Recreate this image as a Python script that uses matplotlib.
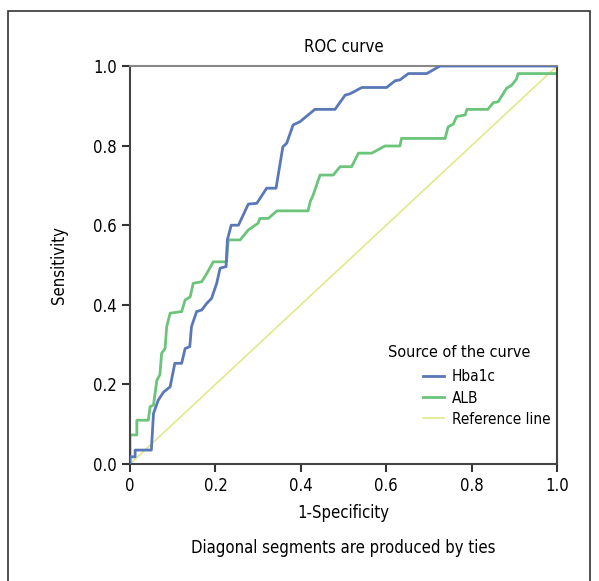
import matplotlib
matplotlib.use("Agg")
import matplotlib.pyplot as plt
from matplotlib.patches import Rectangle

plt.rcParams['font.family'] = ['DejaVu Sans']
plt.rcParams['font.stretch'] = 'condensed'

# ROC points (1-specificity, sensitivity)
hba1c_fpr = [0.0, 0.0, 0.012, 0.012, 0.05, 0.055, 0.066, 0.078, 0.094, 0.105, 0.121, 0.129,
             0.14, 0.144, 0.156, 0.168, 0.18, 0.191, 0.203, 0.211, 0.225, 0.228, 0.237,
             0.254, 0.277, 0.297, 0.32, 0.342, 0.358, 0.367, 0.382, 0.398, 0.433, 0.48,
             0.504, 0.515, 0.543, 0.601, 0.621, 0.632, 0.652, 0.695, 0.726, 1.0]
hba1c_tpr = [0.0, 0.018, 0.018, 0.035, 0.035, 0.127, 0.16, 0.18, 0.194, 0.253, 0.253, 0.29,
             0.295, 0.345, 0.383, 0.387, 0.404, 0.416, 0.454, 0.492, 0.496, 0.563, 0.6,
             0.6, 0.653, 0.655, 0.693, 0.693, 0.797, 0.806, 0.852, 0.86, 0.891, 0.891,
             0.927, 0.93, 0.946, 0.946, 0.963, 0.965, 0.981, 0.981, 1.0, 1.0]

alb_fpr = [0.0, 0.0, 0.016, 0.016, 0.043, 0.047, 0.055, 0.063, 0.07, 0.074, 0.082, 0.086,
           0.094, 0.121, 0.129, 0.141, 0.148, 0.168, 0.18, 0.195, 0.226, 0.23, 0.258,
           0.277, 0.3, 0.304, 0.324, 0.344, 0.417, 0.422, 0.429, 0.445, 0.476, 0.492,
           0.519, 0.535, 0.566, 0.597, 0.632, 0.636, 0.738, 0.745, 0.757, 0.765, 0.785,
           0.789, 0.838, 0.851, 0.862, 0.882, 0.894, 0.905, 0.909, 1.0]
alb_tpr = [0.0, 0.073, 0.073, 0.11, 0.11, 0.144, 0.148, 0.211, 0.224, 0.278, 0.29, 0.345,
           0.379, 0.383, 0.412, 0.42, 0.454, 0.458, 0.479, 0.508, 0.508, 0.563, 0.563,
           0.588, 0.605, 0.617, 0.617, 0.636, 0.636, 0.659, 0.676, 0.726, 0.726, 0.747,
           0.747, 0.781, 0.781, 0.799, 0.799, 0.818, 0.818, 0.847, 0.854, 0.873, 0.877,
           0.891, 0.891, 0.908, 0.91, 0.944, 0.952, 0.967, 0.981, 0.981]

ref_line = [0.0, 1.0]

x_ticks = [0, 0.2, 0.4, 0.6, 0.8, 1.0]
x_labels = ['0', '0.2', '0.4', '0.6', '0.8', '1.0']
y_ticks = [0, 0.2, 0.4, 0.6, 0.8, 1.0]
y_labels = ['0.0', '0.2', '0.4', '0.6', '0.8', '1.0']

fig = plt.figure(figsize=(5.99, 5.81), dpi=100)
ax = fig.add_axes([130/599, 1 - 464/581, 427/599, 398/581])

ax.plot(hba1c_fpr, hba1c_tpr, color='#5a78b8', lw=2, label='Hba1c', zorder=3)
ax.plot(alb_fpr, alb_tpr, color='#6cc47a', lw=2, label='ALB', zorder=2)
ax.plot(ref_line, ref_line, color='#e2e98a', lw=1.2, label='Reference line', zorder=1)

ax.set_xlim(0, 1)
ax.set_ylim(0, 1)
ax.set_xticks(x_ticks)
ax.set_xticklabels(x_labels)
ax.set_yticks(y_ticks)
ax.set_yticklabels(y_labels)
ax.tick_params(labelsize=12, length=6, width=1.5, color='#333333')
for s in ['left', 'bottom', 'right']:
    ax.spines[s].set_color('#444444')
    ax.spines[s].set_linewidth(1.5)
ax.spines['top'].set_color('#888888')
ax.spines['top'].set_linewidth(1.5)

ax.set_title('ROC curve', fontsize=12, pad=10)
ax.set_xlabel('1-Specificity', fontsize=12, labelpad=6)
ax.set_ylabel('Sensitivity', fontsize=12, labelpad=18)

# legend entries are indented under their title
ax.text(0.604, 0.281, 'Source of the curve', transform=ax.transAxes, fontsize=11.6,
        ha='left', va='center')
ax.legend(loc='upper left', bbox_to_anchor=(0.686, 0.2375), borderpad=0, borderaxespad=0,
          frameon=False, fontsize=11, handlelength=1.4, handletextpad=0.5,
          labelspacing=0.4)

fig.text(343/599, 1 - 548/581, 'Diagonal segments are produced by ties', fontsize=12,
         ha='center', va='center')

# outer frame
fig.patches.append(Rectangle((8/599, -0.05), 582/599, 1.05 - 11/581, transform=fig.transFigure,
                             fill=False, edgecolor='#333333', lw=1.2))

fig.savefig('out.png', dpi=100)
